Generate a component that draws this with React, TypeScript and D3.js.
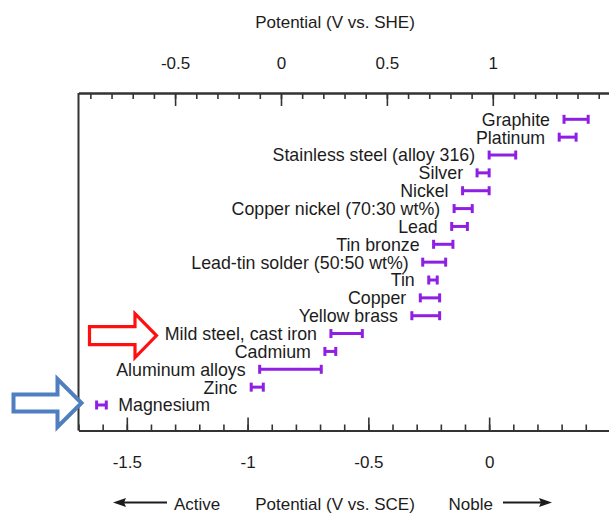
import React, { useEffect, useRef } from 'react';
import * as d3 from 'd3';

// galvanic series in flowing seawater, ranges
const materials = [
  "Graphite",
  "Platinum",
  "Stainless steel (alloy 316)",
  "Silver",
  "Nickel",
  "Copper nickel (70:30 wt%)",
  "Lead",
  "Tin bronze",
  "Lead-tin solder (50:50 wt%)",
  "Tin",
  "Copper",
  "Yellow brass",
  "Mild steel, cast iron",
  "Cadmium",
  "Aluminum alloys",
  "Zinc",
  "Magnesium",
];
const lowSCE = [0.31, 0.29, 0.0, -0.05, -0.11, -0.145, -0.155, -0.23, -0.275, -0.25, -0.285, -0.32, -0.655, -0.68, -0.95, -0.985, -1.625];
const highSCE = [0.41, 0.36, 0.11, 0.0, 0.0, -0.07, -0.09, -0.15, -0.18, -0.215, -0.205, -0.205, -0.525, -0.635, -0.695, -0.935, -1.585];

const sceTicks = [-1.5, -1, -0.5, 0];
const sheTicks = [-0.5, 0, 0.5, 1];

const W = 609;
const H = 515;
const FONT = '"Liberation Sans", Arial, Helvetica, sans-serif';
const PURPLE = "#8f1fe3";
const INK = "#1c1c1c";

const App = () => {
  const ref = useRef<SVGSVGElement>(null);

  useEffect(() => {
    const svg = d3.select(ref.current);
    svg.selectAll("*").remove();

    const left = 78.5, right = 622;
    const top = 93, bottom = 430.5;

    const xSCE = d3.scaleLinear().domain([-1.7, 0.55]).range([left, right]);
    const xSHE = d3.scaleLinear().domain([-0.956, 1.61]).range([left, right]);
    const y = d3.scalePoint<string>().domain(materials).range([119.3, 405]);

    // box: left edge (right edge lies outside the crop)
    svg.append("line")
      .attr("x1", left).attr("x2", left)
      .attr("y1", top).attr("y2", bottom)
      .attr("stroke", "#333").attr("stroke-width", 2);

    const styleAxis = (g: any) => {
      g.select(".domain").attr("stroke", "#333").attr("stroke-width", 2);
      g.selectAll(".tick line").attr("stroke", "#333").attr("stroke-width", 1.6);
      g.selectAll(".tick text")
        .attr("fill", INK)
        .attr("font-family", FONT)
        .attr("font-size", 17);
    };

    // top axis (SHE)
    svg.append("g")
      .attr("transform", `translate(0,${top})`)
      .call(d3.axisTop(xSHE).tickValues(xSHE.ticks(25)).tickSize(-6).tickSizeOuter(0).tickFormat(() => ""))
      .call(styleAxis);
    svg.append("g")
      .attr("transform", `translate(0,${top})`)
      .call(d3.axisTop(xSHE).tickValues(sheTicks).tickSize(-13).tickSizeOuter(0).tickPadding(24).tickFormat(d => String(d)))
      .call(styleAxis);

    // bottom axis (SCE)
    svg.append("g")
      .attr("transform", `translate(0,${bottom})`)
      .call(d3.axisBottom(xSCE).tickValues(xSCE.ticks(22)).tickSize(-6).tickSizeOuter(0).tickFormat(() => ""))
      .call(styleAxis);
    svg.append("g")
      .attr("transform", `translate(0,${bottom})`)
      .call(d3.axisBottom(xSCE).tickValues(sceTicks).tickSize(-13).tickSizeOuter(0).tickPadding(25).tickFormat(d => String(d)))
      .call(styleAxis);

    // range bars
    const rows = materials.map((m, i) => ({ m, lo: lowSCE[i], hi: highSCE[i] }));
    const bar = svg.append("g").attr("stroke", PURPLE).attr("stroke-width", 3);
    rows.forEach(r => {
      const yy = y(r.m) as number;
      bar.append("line").attr("x1", xSCE(r.lo)).attr("x2", xSCE(r.hi)).attr("y1", yy).attr("y2", yy);
      [r.lo, r.hi].forEach(v => {
        bar.append("line").attr("x1", xSCE(v)).attr("x2", xSCE(v)).attr("y1", yy - 4.5).attr("y2", yy + 4.5);
      });
    });

    // labels
    svg.append("g")
      .selectAll("text")
      .data(rows)
      .join("text")
      .attr("x", d => d.m === "Magnesium" ? xSCE(d.hi) + 12 : xSCE(d.lo) - 14)
      .attr("y", d => y(d.m) as number)
      .attr("dy", "0.36em")
      .attr("text-anchor", d => d.m === "Magnesium" ? "start" : "end")
      .attr("font-family", FONT)
      .attr("font-size", 17.8)
      .attr("fill", INK)
      .text(d => d.m);

    // block arrows pointing at mild steel and magnesium
    const blockArrow = (x0: number, xb: number, xt: number, cy: number, shaft: number, head: number) =>
      `M${x0},${cy - shaft / 2}L${xb},${cy - shaft / 2}L${xb},${cy - head / 2}L${xt},${cy}` +
      `L${xb},${cy + head / 2}L${xb},${cy + shaft / 2}L${x0},${cy + shaft / 2}Z`;
    const ySteel = (y("Mild steel, cast iron") as number) + 2;
    const yMg = (y("Magnesium") as number) - 2;
    svg.append("path")
      .attr("d", blockArrow(89.5, 135, 156.5, ySteel, 18, 44))
      .attr("fill", "#fff").attr("stroke", "#ff1010").attr("stroke-width", 3.2)
      .attr("stroke-linejoin", "miter");
    svg.append("path")
      .attr("d", blockArrow(13.5, 57.5, 81.5, yMg, 17, 48))
      .attr("fill", "#fff").attr("stroke", "#4f7fbf").attr("stroke-width", 4)
      .attr("stroke-linejoin", "miter");

    // titles
    svg.append("text")
      .attr("x", 335).attr("y", 27.5)
      .attr("text-anchor", "middle")
      .attr("font-family", FONT).attr("font-size", 17).attr("fill", INK)
      .text("Potential (V vs. SHE)");
    svg.append("text")
      .attr("x", 335).attr("y", 509.5)
      .attr("text-anchor", "middle")
      .attr("font-family", FONT).attr("font-size", 17).attr("fill", INK)
      .text("Potential (V vs. SCE)");

    // Active / Noble direction arrows
    const ay = 502.5;
    svg.append("line").attr("x1", 122).attr("x2", 167).attr("y1", ay).attr("y2", ay)
      .attr("stroke", INK).attr("stroke-width", 2);
    svg.append("path").attr("d", `M113,${ay}L126,${ay - 4.5}L124,${ay}L126,${ay + 4.5}Z`).attr("fill", INK);
    svg.append("text").attr("x", 174).attr("y", 509.5)
      .attr("font-family", FONT).attr("font-size", 17).attr("fill", INK).text("Active");

    svg.append("line").attr("x1", 503).attr("x2", 543).attr("y1", ay).attr("y2", ay)
      .attr("stroke", INK).attr("stroke-width", 2);
    svg.append("path").attr("d", `M552,${ay}L539,${ay - 4.5}L541,${ay}L539,${ay + 4.5}Z`).attr("fill", INK);
    svg.append("text").attr("x", 493).attr("y", 509.5).attr("text-anchor", "end")
      .attr("font-family", FONT).attr("font-size", 17).attr("fill", INK).text("Noble");
  }, []);

  return (
    <svg
      ref={ref}
      width={W}
      height={H}
      style={{ position: "absolute", left: 0, top: 0, background: "#fff" }}
    />
  );
};

export default App;
